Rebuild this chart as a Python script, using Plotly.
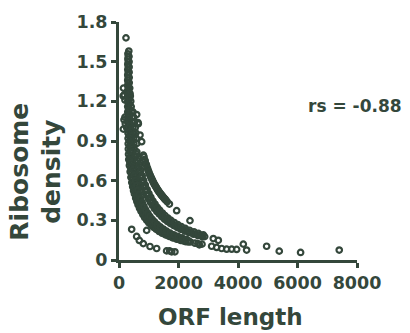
import plotly.graph_objects as go

C = "#34473b"

# Dense column at short ORFs (top of the curve)
col_x = [300, 298, 296, 295, 294, 293, 292, 292, 292, 292, 293, 294, 295, 297, 299, 302, 305, 309, 314, 320, 328,
         315, 314, 313, 312, 312, 312, 313, 314, 316, 318, 322, 326, 330, 335, 340, 345, 350, 356, 362, 370,
         330, 335, 338, 340, 340, 342, 343, 345, 347, 350, 355, 360, 366, 372, 378, 385, 392, 400, 408, 416,
         360, 370, 380, 395, 410, 425, 440, 455, 470, 480, 490, 500, 510,
         420, 430, 440, 450, 460, 470,
         470, 495, 520, 545, 565, 580, 595]
col_y = [1.56, 1.52, 1.48, 1.44, 1.40, 1.36, 1.32, 1.28, 1.24, 1.20, 1.16, 1.12, 1.08, 1.04, 1.00, 0.96, 0.92, 0.88, 0.84, 0.80, 0.76,
         1.54, 1.50, 1.46, 1.42, 1.38, 1.34, 1.30, 1.26, 1.22, 1.18, 1.14, 1.10, 1.06, 1.02, 0.98, 0.94, 0.90, 0.86, 0.82, 0.78,
         1.58, 1.54, 1.50, 1.46, 1.42, 1.38, 1.34, 1.30, 1.26, 1.22, 1.18, 1.14, 1.10, 1.06, 1.02, 0.98, 0.94, 0.90, 0.86, 0.82,
         1.30, 1.26, 1.24, 1.20, 1.16, 1.12, 1.08, 1.04, 1.00, 0.96, 0.92, 0.88, 0.84,
         1.02, 0.98, 0.94, 0.90, 0.86, 0.82,
         1.12, 1.08, 1.04, 1.00, 0.96, 0.92, 0.88]

# Band A (lowest dense band)
band_a_x = [350, 375, 400, 430, 460, 490, 520, 560, 600, 640, 690, 740, 800, 860, 930, 1000, 1080, 1160, 1250, 1350, 1450, 1560, 1680, 1800, 1940, 2080, 2230,
            365, 390, 415, 445, 475, 505, 540, 580, 620, 665, 715, 770, 830, 895, 965, 1040, 1120, 1205, 1300, 1400, 1505, 1620, 1740, 1870, 2010, 2160, 2320,
            380, 410, 440, 470, 500, 535, 570, 610, 650, 700, 750, 810, 870, 940, 1010, 1090, 1170, 1260, 1360, 1460, 1570, 1690, 1810, 1950, 2090, 2240, 2400,
            400, 430, 462, 495, 530, 565, 605, 645, 690, 740, 795, 855, 920, 990, 1065, 1145, 1230, 1325, 1425, 1530, 1645, 1765, 1895, 2030, 2180, 2340,
            420, 450, 485, 520, 555, 595, 635, 680, 730, 780, 840, 900, 970, 1040, 1120, 1200, 1290, 1390, 1490, 1600, 1720, 1840, 1980, 2120, 2270]
band_a_y = [0.714, 0.667, 0.625, 0.586, 0.554, 0.524, 0.500, 0.468, 0.442, 0.417, 0.391, 0.368, 0.344, 0.322, 0.301, 0.282, 0.264, 0.247, 0.232, 0.216, 0.203, 0.190, 0.179, 0.168, 0.157, 0.148, 0.139,
            0.740, 0.697, 0.659, 0.618, 0.583, 0.552, 0.519, 0.486, 0.458, 0.429, 0.402, 0.375, 0.350, 0.327, 0.305, 0.285, 0.266, 0.248, 0.232, 0.216, 0.202, 0.189, 0.177, 0.166, 0.155, 0.145, 0.136,
            0.763, 0.710, 0.664, 0.623, 0.588, 0.551, 0.519, 0.487, 0.458, 0.427, 0.400, 0.373, 0.348, 0.324, 0.303, 0.283, 0.264, 0.247, 0.229, 0.215, 0.201, 0.188, 0.176, 0.164, 0.154, 0.145, 0.136,
            0.780, 0.728, 0.680, 0.637, 0.597, 0.562, 0.527, 0.496, 0.465, 0.435, 0.407, 0.379, 0.354, 0.330, 0.308, 0.287, 0.268, 0.250, 0.233, 0.218, 0.203, 0.190, 0.178, 0.166, 0.155, 0.145,
            0.786, 0.736, 0.685, 0.640, 0.602, 0.563, 0.529, 0.496, 0.463, 0.435, 0.405, 0.379, 0.353, 0.330, 0.307, 0.288, 0.268, 0.250, 0.234, 0.218, 0.203, 0.191, 0.178, 0.167, 0.156]

# Band B (middle dense band)
band_b_x = [560, 600, 640, 680, 720, 770, 820, 870, 930, 990, 1050, 1120, 1190, 1270, 1350, 1440, 1530, 1630, 1730, 1840, 1960, 2080, 2210, 2350, 2500, 2650, 2800,
            580, 620, 662, 705, 750, 800, 852, 907, 967, 1030, 1095, 1165, 1240, 1320, 1405, 1495, 1590, 1690, 1795, 1910, 2030, 2155, 2290, 2435, 2585, 2740, 2880,
            600, 640, 685, 730, 780, 830, 885, 945, 1005, 1070, 1140, 1210, 1290, 1370, 1460, 1550, 1650, 1750, 1860, 1980, 2100, 2230, 2370, 2520, 2670, 2830]
band_b_y = [0.786, 0.737, 0.694, 0.656, 0.622, 0.584, 0.551, 0.522, 0.490, 0.463, 0.438, 0.413, 0.390, 0.367, 0.347, 0.326, 0.308, 0.291, 0.275, 0.260, 0.245, 0.232, 0.219, 0.207, 0.195, 0.185, 0.176,
            0.802, 0.753, 0.708, 0.667, 0.629, 0.592, 0.558, 0.526, 0.495, 0.467, 0.440, 0.415, 0.392, 0.369, 0.348, 0.328, 0.310, 0.293, 0.276, 0.261, 0.246, 0.233, 0.220, 0.207, 0.196, 0.186, 0.177,
            0.817, 0.769, 0.721, 0.679, 0.638, 0.602, 0.567, 0.533, 0.503, 0.475, 0.447, 0.423, 0.398, 0.377, 0.355, 0.335, 0.316, 0.299, 0.283, 0.267, 0.252, 0.239, 0.225, 0.213, 0.201, 0.191]

# Band C (upper thin band) and its tail
band_c_x = [820, 860, 900, 940, 980, 1020, 1060, 1100, 1140, 1180, 1220, 1260, 1300, 1340, 1380, 1420, 1460, 1500, 1540, 1580, 1620,
            840, 880, 920, 960, 1000, 1040, 1080, 1120, 1160, 1200, 1240, 1280, 1320, 1360, 1400, 1440, 1480, 1520, 1560,
            1694, 1938, 2386]
band_c_y = [0.793, 0.759, 0.729, 0.702, 0.677, 0.653, 0.631, 0.612, 0.593, 0.575, 0.559, 0.544, 0.530, 0.516, 0.504, 0.492, 0.481, 0.470, 0.460, 0.451, 0.441,
            0.780, 0.749, 0.720, 0.693, 0.668, 0.645, 0.625, 0.605, 0.587, 0.570, 0.555, 0.540, 0.526, 0.513, 0.501, 0.489, 0.478, 0.467, 0.458,
            0.423, 0.373, 0.298]

# Scattered genes
other_x = [235, 150, 175, 200, 140, 146, 200, 258, 594, 650, 706, 762, 168, 212, 638,
           426, 594, 683, 817, 930, 1042, 1266, 1600, 1700, 1770, 1880,
           2554, 2700, 2790, 2650,
           3170, 3338, 3114, 3282, 3450, 3618, 3786, 3954, 4178, 4290, 4962, 5387, 6104, 7403]
other_y = [1.68, 1.30, 1.25, 1.21, 1.24, 0.99, 1.08, 1.00, 1.10, 1.03, 0.945, 0.895, 1.06, 1.03, 1.04,
           0.232, 0.178, 0.148, 0.124, 0.224, 0.102, 0.087, 0.069, 0.069, 0.062, 0.062,
           0.127, 0.115, 0.120, 0.124,
           0.162, 0.149, 0.104, 0.095, 0.087, 0.082, 0.082, 0.080, 0.120, 0.075, 0.104, 0.067, 0.057, 0.075]

x_ticks = [0, 2000, 4000, 6000, 8000]
y_ticks = [0, 0.3, 0.6, 0.9, 1.2, 1.5, 1.8]
y_labels = ["0", "0.3", "0.6", "0.9", "1.2", "1.5", "1.8"]

fig = go.Figure()
marker = dict(symbol="circle-open", size=5.5, color=C, line=dict(width=2.2, color=C))
for xs, ys in [(col_x, col_y), (band_a_x, band_a_y), (band_b_x, band_b_y), (band_c_x, band_c_y), (other_x, other_y)]:
    fig.add_trace(go.Scatter(x=xs, y=ys, mode="markers", marker=marker, showlegend=False, cliponaxis=False))

font = dict(family="DejaVu Sans", size=17.5, color=C)
fig.update_layout(
    width=410, height=333,
    margin=dict(l=119, r=53, t=18, b=73),
    paper_bgcolor="white", plot_bgcolor="white",
    font=dict(family="DejaVu Sans", color=C),
)
fig.update_xaxes(range=[0, 8000], tickvals=x_ticks, ticktext=[f"<b>{v}</b>" for v in x_ticks],
                 showgrid=False, zeroline=False, showline=True, linecolor=C, linewidth=3,
                 ticks="outside", ticklen=5, tickwidth=3, tickcolor=C, tickfont=font)
fig.update_yaxes(range=[0, 1.8], tickvals=y_ticks, ticktext=[f"<b>{v}</b>" for v in y_labels],
                 showgrid=False, zeroline=False, showline=True, linecolor=C, linewidth=3,
                 ticks="outside", ticklen=5, tickwidth=3, tickcolor=C, tickfont=font)
fig.add_annotation(text="<b>ORF length</b>", xref="paper", yref="paper", x=0.47, y=-0.24,
                   showarrow=False, font=dict(family="DejaVu Sans", size=23, color=C),
                   xanchor="center", yanchor="middle")
fig.add_annotation(text="<b>Ribosome<br>density</b>", xref="paper", yref="paper", x=-0.35, y=0.37,
                   textangle=-90, showarrow=False, font=dict(family="DejaVu Sans", size=25, color=C),
                   xanchor="center", yanchor="middle")
fig.add_annotation(text="<b>rs = -0.88</b>", xref="paper", yref="paper", x=0.99, y=0.649,
                   showarrow=False, font=dict(family="DejaVu Sans", size=17, color=C),
                   xanchor="center", yanchor="middle")
fig.write_html("out.html")
